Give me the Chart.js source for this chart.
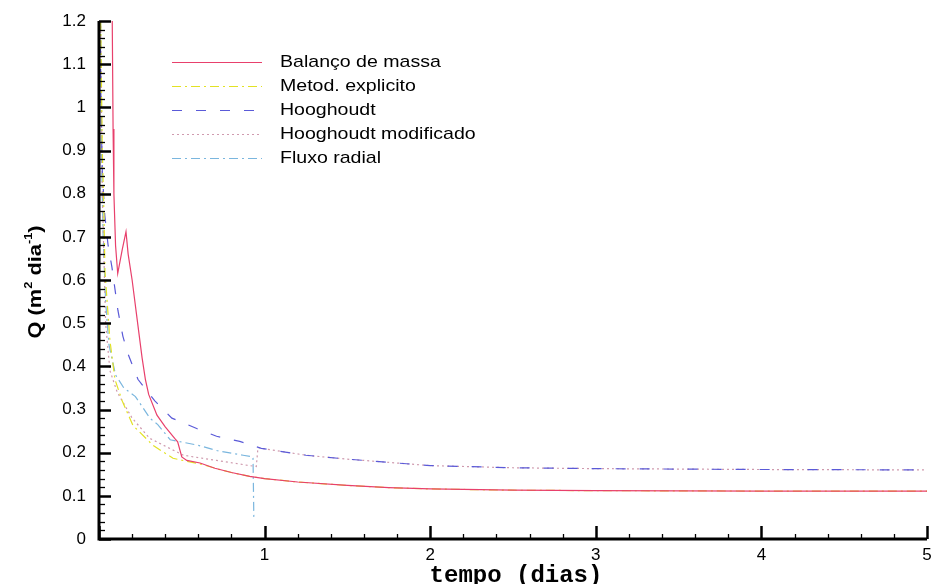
<!DOCTYPE html>
<html>
<head>
<meta charset="utf-8">
<title>Vazão drenada - Q ao longo do tempo</title>
<script src="https://cdn.jsdelivr.net/npm/chart.js@4/dist/chart.umd.min.js"></script>
<style>
  html, body { margin: 0; padding: 0; background: #ffffff; }
  #wrap { width: 933px; height: 584px; }
</style>
</head>
<body>
<div id="wrap"><canvas id="chart" width="933" height="584"></canvas></div>
<script>
// Series values: time (dias) and Q (m2 dia-1)
const seriesNames = ['Balanço de massa', 'Metod. explicito', 'Hooghoudt', 'Hooghoudt modificado', 'Fluxo radial'];

const balancoX = [0.08, 0.085, 0.09, 0.10, 0.113, 0.14, 0.163, 0.176, 0.20, 0.23, 0.26, 0.28, 0.30, 0.35, 0.40, 0.457, 0.475, 0.50, 0.53, 0.61, 0.70, 0.80, 0.91, 1.0, 1.2, 1.5, 1.75, 2.0, 2.5, 3.0, 4.0, 5.0];
const balancoY = [1.2, 0.95, 0.80, 0.68, 0.615, 0.67, 0.712, 0.66, 0.60, 0.51, 0.42, 0.37, 0.335, 0.287, 0.26, 0.233, 0.225, 0.19, 0.182, 0.176, 0.164, 0.154, 0.145, 0.140, 0.132, 0.124, 0.119, 0.116, 0.113, 0.112, 0.111, 0.111];

const explicitoX = [0.01, 0.02, 0.03, 0.036, 0.066, 0.096, 0.14, 0.205, 0.326, 0.447, 0.53, 0.61, 0.70, 0.80, 0.91, 1.0, 1.2, 1.5, 1.75, 2.0, 2.5, 3.0, 4.0, 5.0];
const explicitoY = [1.2, 0.9, 0.75, 0.62, 0.46, 0.37, 0.32, 0.263, 0.217, 0.187, 0.18, 0.174, 0.164, 0.154, 0.145, 0.140, 0.132, 0.124, 0.119, 0.116, 0.113, 0.112, 0.111, 0.111];

const hooghoudtX = [0.008, 0.012, 0.02, 0.035, 0.055, 0.078, 0.096, 0.114, 0.144, 0.174, 0.235, 0.337, 0.44, 0.59, 0.71, 0.85, 0.98, 1.25, 1.5, 2.0, 2.5, 3.0, 4.0, 5.0];
const hooghoudtY = [1.2, 1.0, 0.85, 0.75, 0.68, 0.63, 0.58, 0.53, 0.47, 0.43, 0.37, 0.32, 0.28, 0.256, 0.238, 0.226, 0.21, 0.194, 0.185, 0.17, 0.165, 0.163, 0.161, 0.16];

const modificadoX = [0.01, 0.02, 0.04, 0.066, 0.11, 0.2, 0.307, 0.51, 0.71, 0.91, 0.95, 0.96, 0.98, 1.25, 1.5, 2.0, 2.5, 3.0, 4.0, 5.0];
const modificadoY = [1.2, 0.8, 0.5, 0.39, 0.34, 0.28, 0.233, 0.194, 0.182, 0.17, 0.168, 0.212, 0.21, 0.194, 0.185, 0.17, 0.165, 0.163, 0.161, 0.16];

const radialX = [0.01, 0.015, 0.025, 0.04, 0.06, 0.10, 0.15, 0.22, 0.307, 0.355, 0.43, 0.60, 0.71, 0.87, 0.93, 0.935];
const radialY = [1.2, 0.9, 0.7, 0.55, 0.45, 0.38, 0.35, 0.33, 0.28, 0.265, 0.23, 0.217, 0.205, 0.194, 0.19, 0.05];

// Axis ticks
const xTickValues = [1, 2, 3, 4, 5];
const yTickLabels = ['0', '0.1', '0.2', '0.3', '0.4', '0.5', '0.6', '0.7', '0.8', '0.9', '1', '1.1', '1.2'];

const pts = (xs, ys) => xs.map((x, i) => ({ x: x, y: ys[i] }));

const styles = [
  { color: '#e8406c', dash: [] },
  { color: '#e2e224', dash: [9, 4, 2, 4] },
  { color: '#5a5ad8', dash: [10, 14] },
  { color: '#cf9aae', dash: [2, 3] },
  { color: '#7ab6de', dash: [9, 4, 2, 4] }
];

const seriesData = [
  pts(balancoX, balancoY),
  pts(explicitoX, explicitoY),
  pts(hooghoudtX, hooghoudtY),
  pts(modificadoX, modificadoY),
  pts(radialX, radialY)
];

const datasets = seriesNames.map((name, i) => ({
  label: name,
  data: seriesData[i],
  borderColor: styles[i].color,
  borderDash: styles[i].dash,
  borderWidth: 1.2,
  pointRadius: 0,
  fill: false,
  tension: 0
}));

// Axis lines with inward major/minor ticks, axis titles and the inset legend
const decorations = {
  id: 'decorations',
  afterDraw(chart) {
    const { ctx, chartArea: a, scales: { x, y } } = chart;
    ctx.save();
    ctx.strokeStyle = '#000';
    ctx.lineCap = 'butt';

    // y ticks: minor every 0.02, major every 0.1
    for (let i = 0; i <= 60; i++) {
      const py = Math.round(y.getPixelForValue(i * 0.02)) + 0.5;
      const major = i % 5 === 0;
      ctx.lineWidth = major ? 2.5 : 1.3;
      ctx.beginPath();
      ctx.moveTo(a.left, py);
      ctx.lineTo(a.left + (major ? 12 : 6), py);
      ctx.stroke();
    }
    // x ticks: minor every 0.2, major every 1
    for (let i = 0; i <= 25; i++) {
      const px = Math.round(x.getPixelForValue(i * 0.2)) + 0.5;
      const major = i % 5 === 0;
      ctx.lineWidth = major ? 2.5 : 1.3;
      ctx.beginPath();
      ctx.moveTo(px, a.bottom);
      ctx.lineTo(px, a.bottom - (major ? 13 : 5));
      ctx.stroke();
    }
    // axis lines
    ctx.lineWidth = 3;
    ctx.beginPath();
    ctx.moveTo(a.left, a.top);
    ctx.lineTo(a.left, a.bottom);
    ctx.lineTo(a.right, a.bottom);
    ctx.stroke();

    // legend
    const rowY = [62, 86, 110, 134, 158];
    chart.data.datasets.forEach((ds, i) => {
      ctx.strokeStyle = ds.borderColor;
      ctx.lineWidth = 1.2;
      ctx.setLineDash(ds.borderDash);
      ctx.beginPath();
      ctx.moveTo(172, rowY[i] + 0.5);
      ctx.lineTo(262, rowY[i] + 0.5);
      ctx.stroke();
      ctx.setLineDash([]);
      ctx.save();
      ctx.translate(280, rowY[i]);
      ctx.scale(1.15, 1);
      ctx.fillStyle = '#000';
      ctx.font = '17px "Liberation Sans", Arial, sans-serif';
      ctx.textBaseline = 'middle';
      ctx.textAlign = 'left';
      ctx.fillText(ds.label, 0, 0);
      ctx.restore();
    });

    // y axis title: Q (m² dia⁻¹)
    ctx.save();
    ctx.translate(35, 282);
    ctx.rotate(-Math.PI / 2);
    ctx.scale(1.15, 1);
    ctx.fillStyle = '#000';
    ctx.textBaseline = 'alphabetic';
    const big = 'bold 19px "Liberation Sans", Arial, sans-serif';
    const small = 'bold 11px "Liberation Sans", Arial, sans-serif';
    const parts = [
      { t: 'Q (m', f: big, dy: 0 },
      { t: '2', f: small, dy: -9 },
      { t: ' dia', f: big, dy: 0 },
      { t: '-1', f: small, dy: -9 },
      { t: ')', f: big, dy: 0 }
    ];
    let total = 0;
    parts.forEach(p => { ctx.font = p.f; p.w = ctx.measureText(p.t).width; total += p.w; });
    let cx = -total / 2;
    parts.forEach(p => { ctx.font = p.f; ctx.fillText(p.t, cx, 6 + p.dy); cx += p.w; });
    ctx.restore();

    // x axis title
    ctx.fillStyle = '#000';
    ctx.font = 'bold 24px "Liberation Mono", "Courier New", monospace';
    ctx.textAlign = 'center';
    ctx.textBaseline = 'alphabetic';
    ctx.fillText('tempo (dias)', 516, 582);
    ctx.restore();
  }
};

new Chart(document.getElementById('chart'), {
  type: 'line',
  data: { datasets: datasets },
  options: {
    responsive: false,
    animation: false,
    events: [],
    layout: { padding: { top: 21, right: 6, left: 0, bottom: 0 } },
    plugins: { legend: { display: false }, tooltip: { enabled: false } },
    scales: {
      x: {
        type: 'linear',
        min: 0,
        max: 5,
        afterFit: s => { s.height = 45; s.paddingLeft = 0; s.paddingRight = 0; },
        afterBuildTicks: s => { s.ticks = xTickValues.map(v => ({ value: v })); },
        grid: { display: false, drawTicks: false },
        border: { display: false },
        ticks: {
          autoSkip: false,
          maxRotation: 0,
          padding: 6,
          color: '#000',
          font: { family: '"Liberation Sans", Arial, sans-serif', size: 17 },
          callback: v => String(v)
        }
      },
      y: {
        type: 'linear',
        min: 0,
        max: 1.2,
        afterFit: s => { s.width = 99; s.paddingTop = 0; s.paddingBottom = 0; },
        afterBuildTicks: s => { s.ticks = yTickLabels.map(t => ({ value: parseFloat(t) })); },
        grid: { display: false, drawTicks: false },
        border: { display: false },
        ticks: {
          autoSkip: false,
          padding: 13,
          color: '#000',
          font: { family: '"Liberation Sans", Arial, sans-serif', size: 17 },
          callback: (v, i) => yTickLabels[i]
        }
      }
    }
  },
  plugins: [decorations]
});
</script>
</body>
</html>
